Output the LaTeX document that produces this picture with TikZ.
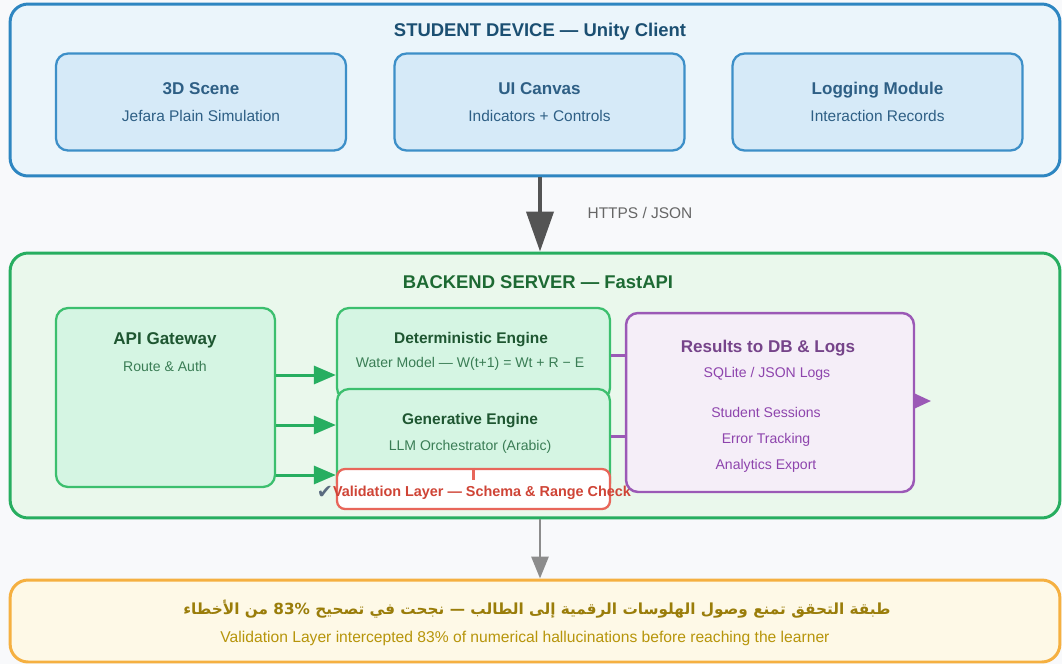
\documentclass[tikz,border=0pt]{standalone}
\usepackage{fontspec}
\setmainfont{Liberation Sans}
\newfontfamily\arabicfont[Script=Arabic]{DejaVu Sans}
\newfontfamily\symbolfont{DejaVu Sans}
\TeXXeTstate=1
\usetikzlibrary{arrows.meta}
\definecolor{pagebg}{HTML}{F8F9FB}
\definecolor{clientfill}{HTML}{EBF5FB}
\definecolor{clientline}{HTML}{2E86C1}
\definecolor{clienttext}{HTML}{1B4F72}
\definecolor{modfill}{HTML}{D6EAF8}
\definecolor{modline}{HTML}{3D8FC8}
\definecolor{modsub}{HTML}{2E5F85}
\definecolor{backfill}{HTML}{EAF8EC}
\definecolor{backline}{HTML}{27AE60}
\definecolor{backtext}{HTML}{1D6A33}
\definecolor{engfill}{HTML}{D5F5E3}
\definecolor{engline}{HTML}{3CBF6E}
\definecolor{engtext}{HTML}{1E5631}
\definecolor{engsub}{HTML}{3A7D55}
\definecolor{valline}{HTML}{E8665A}
\definecolor{valtext}{HTML}{CF4436}
\definecolor{checkmark}{HTML}{5A6B80}
\definecolor{resfill}{HTML}{F5EEF8}
\definecolor{resline}{HTML}{9B59B6}
\definecolor{restext}{HTML}{76448A}
\definecolor{ressub}{HTML}{8E44AD}
\definecolor{sumfill}{HTML}{FEF9E7}
\definecolor{sumline}{HTML}{F5B041}
\definecolor{sumar}{HTML}{9A7D0A}
\definecolor{sumen}{HTML}{B7950B}
\newcommand{\layerfont}{\fontsize{10.5}{12}\selectfont\bfseries}
\newcommand{\titlefont}{\fontsize{9.7}{15}\selectfont\bfseries}
\newcommand{\enginefont}{\fontsize{8.8}{11}\selectfont\bfseries}
\newcommand{\subfont}{\fontsize{8.8}{15}\selectfont}
\newcommand{\smallsub}{\fontsize{8}{9.5}\selectfont}
\newcommand{\twoline}[2]{{\titlefont #1}\\{#2}}
\tikzset{
    layer/.style={draw, rounded corners=3.6mm, line width=1.7pt, minimum width=21cm},
    module/.style={draw=modline, fill=modfill, rounded corners=2.4mm, line width=1.3pt,
        minimum width=5.8cm, minimum height=1.94cm, align=center, font=\subfont, text=modsub},
    engine/.style={draw=engline, fill=engfill, rounded corners=2.4mm, line width=1.3pt, minimum width=5.46cm},
    enginetitle/.style={font=\enginefont, text=engtext},
    enginesub/.style={font=\smallsub, text=engsub},
    ressub/.style={font=\smallsub, text=ressub},
    flow/.style={draw=backline, line width=1.7pt, -{Triangle[length=0.44cm, width=0.36cm]}},
    feed/.style={draw=resline, line width=1.7pt}
}
\begin{document}
\begin{tikzpicture}[x=0.02cm, y=-0.02cm]
    \fill[pagebg] (0,0) rectangle (1062,664);
    \useasboundingbox (0,0) rectangle (1062,664);
    \coordinate (link) at (540,0);

    \node[layer, draw=clientline, fill=clientfill, minimum height=3.44cm] (client) at (535,90) {};
    \node[font=\layerfont, text=clienttext] (clienttitle) at (540,32) {STUDENT DEVICE — Unity Client};
    \node[module] (scene) at (201,102) {\twoline{3D Scene}{Jefara Plain Simulation}};
    \node[module] (canvas) at (539.5,102) {\twoline{UI Canvas}{Indicators + Controls}};
    \node[module] (logging) at (877.5,102) {\twoline{Logging Module}{Interaction Records}};

    \node[layer, draw=backline, fill=backfill, minimum height=5.3cm] (backend) at (535,385.5) {};
    \node[font=\layerfont, text=backtext] (backtitle) at (538,282) {BACKEND SERVER — FastAPI};

    \node[engine, minimum width=4.38cm, minimum height=3.58cm] (api) at (165.5,397.5) {};
    \node[font=\titlefont, text=engtext] (apititle) at (165,340) {API Gateway};
    \node[enginesub] (apisub) at (165,366) {Route \& Auth};

    \node[engine, minimum height=1.84cm] (det) at (473.5,354) {};
    \node[engine, minimum height=2.12cm] (gen) at (473.5,442) {};
    \node[enginetitle] (dettitle) at (471,340) {Deterministic Engine};
    \node[enginesub] (detsub) at (470,364) {Water Model — W(t+1) = Wt + R − E};
    \node[enginetitle] (gentitle) at (470,421) {Generative Engine};
    \node[enginesub] (gensub) at (470,447) {LLM Orchestrator (Arabic)};

    \node[draw=valline, fill=white, rounded corners=1.6mm, line width=1.3pt,
        minimum width=5.46cm, minimum height=0.8cm] (val) at (473.5,489) {};
    \node[font=\fontsize{8.2}{10}\selectfont\bfseries, text=valtext] (valtext) at (482,493)
        {Validation Layer — Schema \& Range Check};
    \node[text=checkmark, font=\symbolfont\fontsize{11}{12}\selectfont] (tick) at (325,492) {✔};
    \draw[valline, line width=1.3pt] (val.north) -- ++(0,12);

    \node[draw=resline, fill=resfill, rounded corners=2.4mm, line width=1.4pt,
        minimum width=5.76cm, minimum height=3.58cm] (res) at (770,402.5) {};
    \node[font=\titlefont, text=restext] (restitle) at (768,348) {Results to DB \& Logs};
    \node[ressub] (resdb) at (767,374) {SQLite / JSON Logs};
    \node[ressub] (ressessions) at (766,412) {Student Sessions};
    \node[ressub] (reserrors) at (766,440) {Error Tracking};
    \node[ressub] (resexport) at (766,466) {Analytics Export};
    \coordinate (resout) at (931,401);

    \draw[flow] (api.east |- 0,375) -- (det.west |- 0,375);
    \draw[flow] (api.east |- 0,425) -- (gen.west |- 0,425);
    \draw[flow] (api.east |- 0,475) -- (val.west |- 0,475);
    \draw[feed] (det.east |- 0,355) -- (res.west |- 0,355);
    \draw[feed] (gen.east |- 0,436) -- (res.west |- 0,436);
    \draw[resline, line width=1.4pt, -{Triangle[length=0.34cm, width=0.3cm]}] (res.east |- resout) -- (resout);

    \node[layer, draw=sumline, fill=sumfill, minimum height=1.64cm] (summary) at (535,621) {};
    \node[font=\arabicfont\bfseries\fontsize{8.7}{11}\selectfont, text=sumar] (sumarabic) at (537,609)
        {\beginR طبقة التحقق تمنع وصول الهلوسات الرقمية إلى الطالب — نجحت في تصحيح \beginL\hbox{\symbolfont\bfseries 83\%}\endL{} من الأخطاء\endR};
    \node[font=\fontsize{8.9}{10}\selectfont, text=sumen] (sumenglish) at (525,638)
        {Validation Layer intercepted 83\% of numerical hallucinations before reaching the learner};

    \draw[black!67, line width=2.3pt, -{Triangle[length=0.8cm, width=0.54cm]}] (client.south -| link) -- (backend.north -| link);
    \node[font=\fontsize{8.8}{10}\selectfont, text=black!60] (protocol) at (640,213) {HTTPS / JSON};
    \draw[black!45, line width=1.7pt, -{Triangle[length=0.44cm, width=0.34cm]}] (backend.south -| link) -- (summary.north -| link);
\end{tikzpicture}
\end{document}
